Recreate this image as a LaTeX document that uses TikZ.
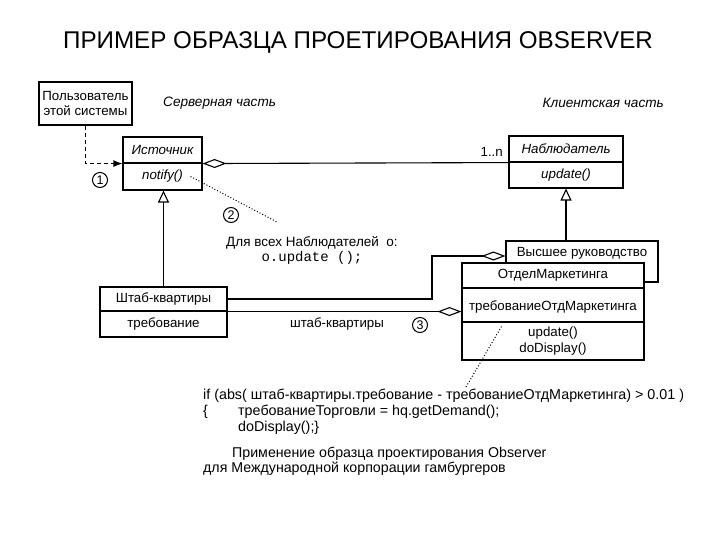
\documentclass[tikz,border=0pt]{standalone}
\usepackage{fontspec}
\setmainfont{Liberation Sans}
\setmonofont{Liberation Mono}
\usetikzlibrary{arrows.meta}
\tikzset{
  cls/.style={draw, line width=1.1pt, fill=white, inner sep=0pt, font=\fontsize{13.3}{15}\selectfont},
  num/.style={draw, circle, line width=1pt, inner sep=0pt, minimum size=15pt, font=\fontsize{12.5}{13}\selectfont},
  gen/.style={line width=1.1pt, -{Triangle[open,length=12pt,width=11pt]}},
  agg/.style={line width=1.1pt, -{Diamond[open,length=24pt,width=9pt]}},
  notelink/.style={line width=1pt, dash pattern=on 1pt off 2pt},
  txt/.style={inner sep=0pt, font=\fontsize{13.3}{15}\selectfont},
}
\begin{document}
\begin{tikzpicture}[x=1pt,y=-1pt]
\useasboundingbox (0,0) rectangle (720,540);
% title
\node[txt, font=\fontsize{24.2}{28}\selectfont] (title) at (358,42) {ПРИМЕР ОБРАЗЦА ПРОЕТИРОВАНИЯ OBSERVER};
% parts
\node[txt, anchor=west, font=\fontsize{13.6}{15}\itshape] (srvpart) at (163,103) {Серверная часть};
\node[txt, anchor=east, font=\fontsize{13.6}{15}\itshape] (clipart) at (664,103) {Клиентская часть};
% user
\node[cls, minimum width=93, minimum height=43, align=center] (user) at (85.5,103.5) {Пользователь\\этой системы};
% subject
\node[cls, minimum width=79, minimum height=26, font=\fontsize{13.3}{15}\itshape] (srcname) at (162.5,150) {Источник};
\node[cls, minimum width=79, minimum height=27, font=\fontsize{13.3}{15}\itshape] (srcop) at (162.5,176.5) {notify()};
% observer
\node[cls, minimum width=114, minimum height=26, font=\fontsize{13.3}{15}\itshape] (obsname) at (566,149) {Наблюдатель};
\node[cls, minimum width=114, minimum height=26, font=\fontsize{13.3}{15}\itshape] (obsop) at (566,175) {update()};
% headquarters
\node[cls, minimum width=127, minimum height=24] (hqname) at (163.5,299) {Штаб-квартиры};
\node[cls, minimum width=127, minimum height=26] (hqattr) at (163.5,324) {требование};
% top management behind marketing
\node[cls, minimum width=152, minimum height=41] (top) at (582,261.5) {};
\node[txt] (toplbl) at (582,253) {Высшее руководство};
\node[cls, minimum width=182, minimum height=25] (mktname) at (553,275.5) {ОтделМаркетинга};
\node[cls, minimum width=182, minimum height=34, text height=12pt, text depth=1pt] (mktattr) at (553,305) {требованиеОтдМаркетинга};
\node[cls, minimum width=182, minimum height=38, align=center, font=\fontsize{13.3}{16}\selectfont] (mktop) at (553,341) {update()\\doDisplay()};

% links
\draw[line width=1.1pt, dash pattern=on 4pt off 3pt, -{Latex[length=9pt,width=7pt]}] (user.south) |- (srcname.south west);
\draw[agg] (obsname.south west) -- (srcname.south east);
\node[txt, anchor=east] (mult) at (503,152) {1..n};
\draw[gen] (hqname.north) -- (hqname.north |- srcop.south);
\draw[gen] (top.north -| obsop.south) -- (obsop.south);
\coordinate (bend) at (432,256);
\draw[agg] (hqname.east) -| (bend) -- (top.west |- bend);
\draw[agg] (hqname.south east) -- (mktattr.west |- hqname.south east);
\node[txt] (hqrole) at (337,324) {штаб-квартиры};

% notes
\node[num] (n1) at (100,180) {1};
\node[num] (n2) at (231,215) {2};
\node[num] (n3) at (420,325) {3};
\coordinate (n2end) at (277,222);
\draw[notelink] ([xshift=-12pt]srcop.east) -- (n2end);
\node[txt, align=center, font=\fontsize{13.5}{15}\selectfont] (n2txt) at (312,250) {Для всех Наблюдателей\ \ o:\\{\fontsize{14}{15}\ttfamily o.update ();}};
\coordinate (n3end) at (466,387);
\draw[notelink] ([xshift=40pt,yshift=-4pt]mktattr.south west) -- (n3end);
\node[txt, anchor=north west, align=left, font=\fontsize{14.3}{16}\selectfont] (code) at (203,389)
  {if (abs( штаб-квартиры.требование - требованиеОтдМаркетинга) > 0.01 )\\
   \makebox[35pt][l]{\{}требованиеТорговли = hq.getDemand();\\
   \hspace*{35pt}doDisplay();\}};
\node[txt, anchor=north west, align=left, font=\fontsize{14.2}{15}\selectfont] (caption) at (203,447)
  {\hspace*{29pt}Применение образца проектирования Observer\\для Международной корпорации гамбургеров};
\end{tikzpicture}
\end{document}
